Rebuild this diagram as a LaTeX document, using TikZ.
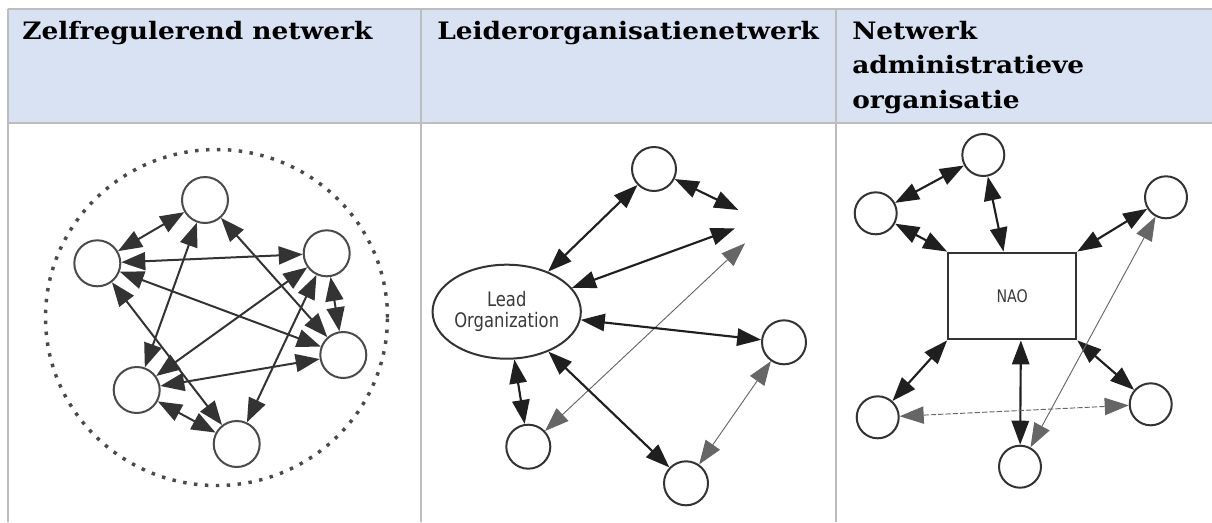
\documentclass[tikz,border=0pt]{standalone}
\usepackage{fontspec}
\usetikzlibrary{arrows.meta,shapes.geometric}
\newfontfamily\headfont[FakeStretch=1.1]{DejaVu Serif}
\newfontfamily\labfont[FakeStretch=0.82]{DejaVu Sans}
\definecolor{headfill}{HTML}{D9E2F3}
\definecolor{bordergray}{HTML}{BDBDBD}
\definecolor{ringgray}{HTML}{4A4A4A}
\definecolor{nodegray}{HTML}{333333}
\definecolor{labgray}{HTML}{3A3A3A}
\definecolor{thingray}{HTML}{666666}
\tikzset{
  border/.style={draw=bordergray, line width=1.5pt},
  headtxt/.style={anchor=base west, inner sep=0pt, font=\headfont\bfseries\fontsize{18pt}{25.7pt}\selectfont},
  netnode/.style={circle, draw=nodegray, line width=1.5pt, inner sep=0pt, minimum size=33pt, fill=white},
  bignet/.style={netnode, draw=ringgray, minimum size=34.5pt},
  twoway/.style={{Triangle[length=18pt,width=13pt]}-{Triangle[length=18pt,width=13pt]}, line width=1.6pt, draw=black!88},
  onering/.style={{Triangle[length=18pt,width=13.5pt]}-{Triangle[length=18pt,width=13.5pt]}, line width=1.5pt, draw=black!80},
  thinway/.style={twoway, line width=0.7pt, draw=thingray},
  dotring/.style={draw=ringgray, line width=2.6pt, dash pattern=on 2.6pt off 5.6pt},
}
\begin{document}
\begin{tikzpicture}[x=0.75pt,y=-0.75pt]
\useasboundingbox (0,0) rectangle (1212,522);
% ---------- table ----------
\fill[headfill] (7.5,9) rectangle (1212,123);
\draw[border] (7.5,9) -- (1212,9);
\draw[border] (7.5,123) -- (1212,123);
\draw[border] (7.5,9) -- (7.5,522);
\draw[border] (421,9) -- (421,522);
\draw[border] (836,9) -- (836,522);
\node[headtxt] (h1) at (22,39.5) {Zelfregulerend netwerk};
\node[headtxt] (h2) at (437,39.5) {Leiderorganisatienetwerk};
\node[headtxt] (h3a) at (852,39.5) {Netwerk};
\node[headtxt] (h3b) at (852,73.8) {administratieve};
\node[headtxt] (h3c) at (852,108.1) {organisatie};
% ---------- panel 1 ----------
\draw[dotring] (216.5,317.5) ellipse [x radius=128.25pt, y radius=126pt];
\node[bignet] (a1) at (205,200) {};
\node[bignet] (a2) at (97.3,263.3) {};
\node[bignet] (a3) at (326.7,253.3) {};
\node[bignet] (a4) at (343.3,355) {};
\node[bignet] (a5) at (136.7,390) {};
\node[bignet] (a6) at (236.7,444) {};
\draw[onering] (a1) -- (a2);
\draw[onering] (a1) -- (a4);
\draw[onering] (a1) -- (a5);
\draw[onering] (a2) -- (a3);
\draw[onering] (a2) -- (a4);
\draw[onering] (a2) -- (a6);
\draw[onering] (a3) -- (a5);
\draw[onering] (a3) -- (a4);
\draw[onering] (a3) -- (a6);
\draw[onering] (a5) -- (a4);
\draw[onering] (a5) -- (a6);
% ---------- panel 2 ----------
\node[ellipse, draw=nodegray, line width=1.5pt, minimum width=90pt, minimum height=70.5pt, inner sep=0pt,
      align=center, text=labgray, font=\labfont\fontsize{15pt}{16pt}\selectfont] (lead) at (506.7,311.7) {Lead\\Organization};
\node[netnode] (b1) at (654,169) {};
\node[netnode] (b2) at (784,342.3) {};
\node[netnode] (b3) at (686,483.3) {};
\node[netnode] (b4) at (528.3,446.7) {};
\coordinate (e1) at (738.3,210);
\coordinate (e2) at (735,228.3);
\coordinate (e3) at (745,243.3);
\draw[twoway] (lead) -- (b1);
\draw[twoway] (b1) -- (e1);
\draw[twoway] (lead) -- (e2);
\draw[thinway] (b4) -- (e3);
\draw[twoway] (lead) -- (b2);
\draw[twoway] (lead) -- (b4);
\draw[twoway] (lead) -- (b3);
\draw[thinway] (b2) -- (b3);
% ---------- panel 3 ----------
\node[draw=nodegray, line width=1.6pt, minimum width=96pt, minimum height=65pt, inner sep=0pt,
      text=labgray, font=\labfont\fontsize{13pt}{14pt}\selectfont] (nao) at (1012.2,296) {NAO};
\node[netnode, minimum size=31.5pt] (c1) at (983.3,155) {};
\node[netnode, minimum size=31.5pt] (c2) at (875.7,213.3) {};
\node[netnode, minimum size=31.5pt] (c3) at (1166,197.3) {};
\node[netnode, minimum size=31.5pt] (c4) at (877.7,417.3) {};
\node[netnode, minimum size=31.5pt] (c5) at (1020,466.7) {};
\node[netnode, minimum size=31.5pt] (c6) at (1150.7,404.3) {};
\draw[twoway] (c2) -- (c1);
\draw[twoway] (c1) -- ([xshift=-6.5pt]nao.north);
\draw[twoway] (c2) -- (nao.north west);
\draw[twoway] (c3) -- (nao.north east);
\draw[twoway] (c4) -- (nao.south west);
\draw[twoway] ([xshift=6.5pt]nao.south) -- (c5);
\draw[twoway] (nao.south east) -- (c6);
\draw[thinway, dashed, dash pattern=on 4pt off 1.5pt] (c4) -- (c6);
\draw[thinway] (c5) -- (c3);
\end{tikzpicture}
\end{document}
